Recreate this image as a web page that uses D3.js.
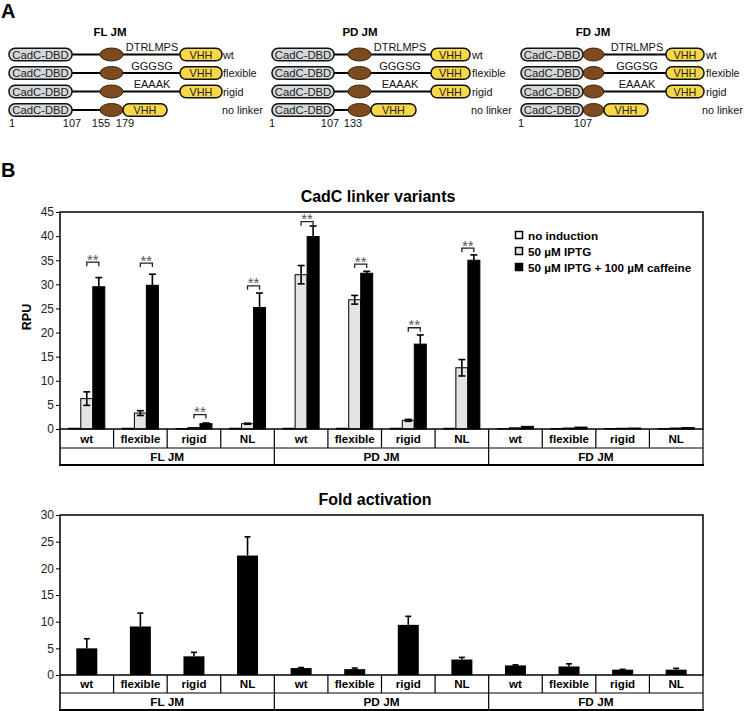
<!DOCTYPE html>
<html><head><meta charset="utf-8">
<script src="https://cdn.jsdelivr.net/npm/d3@7/dist/d3.min.js"></script>
<style>
body{margin:0;background:#fff;}
svg{display:block;font-family:"Liberation Sans",Arial,sans-serif;}
</style></head>
<body>
<script>
// ---------------- DATA ----------------
const groups = ["FL JM", "PD JM", "FD JM"];
const variants = ["wt", "flexible", "rigid", "NL"];
const categories = ["FL-wt","FL-flexible","FL-rigid","FL-NL","PD-wt","PD-flexible","PD-rigid","PD-NL","FD-wt","FD-flexible","FD-rigid","FD-NL"];
const seriesNames = ["no induction", "50 µM IPTG", "50 µM IPTG + 100 µM caffeine"];
const noInduction    = [0.15,0.15,0.1,0.15, 0.15,0.15,0.15,0.15, 0.1,0.1,0.1,0.1];
const noInductionErr = [0.02,0.02,0.02,0.02, 0.02,0.02,0.02,0.02, 0.02,0.02,0.02,0.02];
const iptg           = [6.3,3.3,0.3,1.1, 32.0,26.8,1.8,12.7, 0.25,0.2,0.15,0.2];
const iptgErr        = [1.4,0.5,0.05,0.1, 1.9,0.9,0.2,1.7, 0.05,0.05,0.03,0.05];
const caffeine       = [29.5,29.8,1.1,25.2, 39.9,32.3,17.6,35.0, 0.55,0.4,0.2,0.3];
const caffeineErr    = [1.9,2.3,0.15,3.0, 2.2,0.4,1.9,1.1, 0.08,0.06,0.04,0.05];
const sigLevel       = [34.6,34.4,3.0,29.7, 43.0,34.2,21.0,37.5, null,null,null,null];
const foldActivation = [5.0,9.1,3.5,22.4, 1.3,1.1,9.4,2.9, 1.8,1.6,1.0,1.0];
const foldErr        = [1.8,2.5,0.75,3.5, 0.1,0.2,1.6,0.4, 0.1,0.5,0.05,0.25];
const rpuTicks = [0,5,10,15,20,25,30,35,40,45];
const foldTicks = [0,5,10,15,20,25,30];

// Panel A schematic content
const constructRows = ["wt","flexible","rigid","no linker"];
const linkerSeqs = ["DTRLMPS","GGGSG","EAAAK",null];
const schemeTitles = ["FL JM","PD JM","FD JM"];
const schemeNumbers = [["1","107","155","179"],["1","107","133"],["1","107"]];

// ---------------- DRAW ----------------
const W = 746, H = 711;
const svg = d3.select("body").append("svg").attr("width", W).attr("height", H);
const FONT = '"Liberation Sans",Arial,sans-serif';

// Panel letters
svg.append("text").attr("x",1).attr("y",18).attr("font-size",20).attr("font-weight","bold").text("A");
svg.append("text").attr("x",1).attr("y",177).attr("font-size",20).attr("font-weight","bold").text("B");

// ----- Panel A -----
const schemeLayout = [
  {title:110, cad:[9,72], ell:[100,123], vhh:[180,222], nlv:[123,167], lab:223, nlLab:222, lnk:152,
   nums:[[9,"start"],[72,"middle"],[101,"middle"],[125,"middle"]]},
  {title:360, cad:[272,334], ell:[348,371], vhh:[431,470], nlv:[371,416], lab:472, nlLab:471, lnk:400,
   nums:[[272,"middle"],[330,"middle"],[353,"middle"]]},
  {title:593, cad:[521,583], ell:[583,604], vhh:[666,704], nlv:[604,648], lab:706, nlLab:702, lnk:637,
   nums:[[521,"middle"],[583,"middle"]]}
];
const rowY = d3.scalePoint().domain(constructRows).range([54.5,110]);
const pillH = 12.5;
schemeLayout.forEach((L, gi) => {
  const g = svg.append("g");
  g.append("text").attr("x",L.title).attr("y",36).attr("text-anchor","middle")
    .attr("font-size",11.5).attr("font-weight","bold").text(schemeTitles[gi]);
  constructRows.forEach((r, ri) => {
    const cy = rowY(r);
    const nl = r === "no linker";
    const vhh = nl ? L.nlv : L.vhh;
    g.append("line").attr("x1",L.cad[1]).attr("x2",vhh[0]).attr("y1",cy).attr("y2",cy)
      .attr("stroke","#000").attr("stroke-width",2.2);
    g.append("rect").attr("x",L.cad[0]).attr("y",cy-pillH/2).attr("width",L.cad[1]-L.cad[0]).attr("height",pillH)
      .attr("rx",6).attr("fill","#d5d8da").attr("stroke","#111").attr("stroke-width",1.5);
    g.append("text").attr("x",(L.cad[0]+L.cad[1])/2).attr("y",cy+4).attr("text-anchor","middle")
      .attr("font-size",11.3).attr("fill","#222").text("CadC-DBD");
    g.append("ellipse").attr("cx",(L.ell[0]+L.ell[1])/2).attr("cy",cy).attr("rx",(L.ell[1]-L.ell[0])/2).attr("ry",6.5)
      .attr("fill","#7d4b1f").attr("stroke","#3a2208").attr("stroke-width",1);
    g.append("rect").attr("x",vhh[0]).attr("y",cy-pillH/2).attr("width",vhh[1]-vhh[0]).attr("height",pillH)
      .attr("rx",6).attr("fill","#f8d84a").attr("stroke","#111").attr("stroke-width",1.5);
    g.append("text").attr("x",(vhh[0]+vhh[1])/2).attr("y",cy+4).attr("text-anchor","middle")
      .attr("font-size",10.8).attr("fill","#222").text("VHH");
    if (linkerSeqs[ri]) g.append("text").attr("x",L.lnk).attr("y",cy-3.5).attr("text-anchor","middle")
      .attr("font-size",11).attr("fill","#111").text(linkerSeqs[ri]);
    g.append("text").attr("x", nl ? L.nlLab : L.lab).attr("y",cy+4).attr("font-size",10.8).attr("fill","#111").text(r);
  });
  schemeNumbers[gi].forEach((n, ni) => {
    g.append("text").attr("x",L.nums[ni][0]).attr("y",127).attr("text-anchor",L.nums[ni][1])
      .attr("font-size",11).attr("fill","#111").text(n);
  });
});

// ----- Panel B shared -----
const x = d3.scaleBand().domain(categories).range([60,703]).padding(0);
const bw = x.bandwidth();

function drawTable(yTop, h1, h2) {
  const g = svg.append("g");
  g.append("line").attr("x1",60).attr("x2",703).attr("y1",yTop+h1).attr("y2",yTop+h1).attr("stroke","#000").attr("stroke-width",1.2);
  categories.forEach((c,i) => {
    g.append("line").attr("x1",x(c)+bw).attr("x2",x(c)+bw).attr("y1",yTop).attr("y2",yTop+h1 + ((i%4===3)?h2:0))
      .attr("stroke","#000").attr("stroke-width",1.2);
    g.append("text").attr("x",x(c)+bw/2).attr("y",yTop+h1/2+4.3).attr("text-anchor","middle")
      .attr("font-size",11.6).attr("font-weight","bold").text(variants[i%4]);
  });
  g.append("line").attr("x1",60).attr("x2",60).attr("y1",yTop).attr("y2",yTop+h1+h2).attr("stroke","#000").attr("stroke-width",1.5);
  g.append("line").attr("x1",59).attr("x2",704).attr("y1",yTop+h1+h2).attr("y2",yTop+h1+h2).attr("stroke","#000").attr("stroke-width",1.8);
  groups.forEach((gn,gi) => {
    const x0 = x(categories[gi*4]), x1 = x(categories[gi*4+3])+bw;
    g.append("text").attr("x",(x0+x1)/2).attr("y",yTop+h1+h2/2+4.3).attr("text-anchor","middle")
      .attr("font-size",11.8).attr("font-weight","bold").text(gn);
  });
}

function drawFrame(y, yTicks) {
  const [yb, yt] = y.range();
  svg.append("rect").attr("x",60).attr("y",yt).attr("width",643).attr("height",yb-yt)
    .attr("fill","none").attr("stroke","#000").attr("stroke-width",1.5);
  const ax = svg.append("g").attr("transform","translate(60,0)")
    .call(d3.axisLeft(y).tickValues(yTicks).tickSize(4).tickPadding(2));
  ax.select(".domain").remove();
  ax.selectAll("text").attr("font-size",12).attr("font-family",FONT).attr("fill","#222");
  ax.selectAll("line").attr("stroke","#000");
}

// ----- Top chart -----
svg.append("text").attr("x",378).attr("y",202).attr("text-anchor","middle").attr("font-size",16).attr("font-weight","bold").text("CadC linker variants");
const y1 = d3.scaleLinear().domain([0,45]).range([429,212]);
const sub = d3.scaleBand().domain([0,1,2]).range([bw/2-18, bw/2+18]).padding(0);
const series = [
  {vals:noInduction, errs:noInductionErr, fill:"#ffffff"},
  {vals:iptg, errs:iptgErr, fill:"#e4e4e4"},
  {vals:caffeine, errs:caffeineErr, fill:"#000000"}
];
const barsG = svg.append("g");
series.forEach((s, si) => {
  categories.forEach((c, ci) => {
    const bx = x(c) + sub(si), v = s.vals[ci];
    barsG.append("rect").attr("x",bx).attr("y",y1(v)).attr("width",sub.bandwidth()).attr("height",y1(0)-y1(v))
      .attr("fill",s.fill).attr("stroke","#000").attr("stroke-width",1);
    const cx = bx + sub.bandwidth()/2, e = s.errs[ci];
    if (e > 0.08) {
      const eg = barsG.append("g").attr("stroke", "#000").attr("stroke-width",1.6);
      eg.append("line").attr("x1",cx).attr("x2",cx).attr("y1",y1(v-e)).attr("y2",y1(v+e));
      eg.append("line").attr("x1",cx-3.5).attr("x2",cx+3.5).attr("y1",y1(v+e)).attr("y2",y1(v+e));
      eg.append("line").attr("x1",cx-3.5).attr("x2",cx+3.5).attr("y1",y1(v-e)).attr("y2",y1(v-e));
    }
  });
});
categories.forEach((c, ci) => {
  if (sigLevel[ci] == null) return;
  const xa = x(c)+sub(1)+sub.bandwidth()/2, xb = x(c)+sub(2)+sub.bandwidth()/2, yy = y1(sigLevel[ci]);
  svg.append("path").attr("d",`M${xa},${yy+4}V${yy}H${xb}V${yy+4}`).attr("fill","none").attr("stroke","#222").attr("stroke-width",1.3);
  svg.append("text").attr("x",(xa+xb)/2).attr("y",yy+2.5).attr("text-anchor","middle").attr("font-size",15).attr("fill","#555").text("**");
});
drawFrame(y1, rpuTicks);
drawTable(429, 19, 17);
svg.append("text").attr("transform","translate(31,317) rotate(-90)").attr("text-anchor","middle")
  .attr("font-size",12.5).attr("font-weight","bold").text("RPU");
const leg = svg.append("g");
seriesNames.forEach((n,i) => {
  leg.append("rect").attr("x",515.5).attr("y",231.5+i*16).attr("width",7).attr("height",7)
    .attr("fill",series[i].fill).attr("stroke","#000").attr("stroke-width",1.5);
  leg.append("text").attr("x",528).attr("y",239.5+i*16).attr("font-size",11.7).attr("font-weight","bold").text(n);
});

// ----- Bottom chart -----
svg.append("text").attr("x",375).attr("y",505).attr("text-anchor","middle").attr("font-size",16).attr("font-weight","bold").text("Fold activation");
const y2 = d3.scaleLinear().domain([0,30]).range([675,515]);
categories.forEach((c, ci) => {
  const v = foldActivation[ci], e = foldErr[ci];
  const cx = x(c)+bw/2;
  svg.append("rect").attr("x",cx-10.5).attr("y",y2(v)).attr("width",21).attr("height",y2(0)-y2(v)).attr("fill","#000");
  svg.append("line").attr("x1",cx).attr("x2",cx).attr("y1",y2(v)).attr("y2",y2(v+e)).attr("stroke","#000").attr("stroke-width",1.6);
  svg.append("line").attr("x1",cx-3).attr("x2",cx+3).attr("y1",y2(v+e)).attr("y2",y2(v+e)).attr("stroke","#000").attr("stroke-width",1.6);
});
drawFrame(y2, foldTicks);
drawTable(675, 18, 17);
</script>
</body></html>
